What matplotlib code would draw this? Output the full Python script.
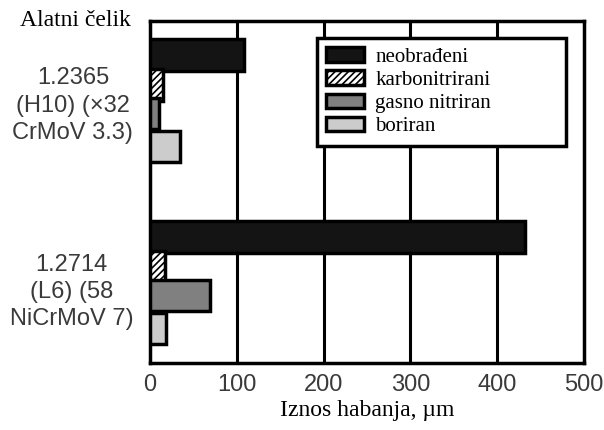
import matplotlib
matplotlib.use("Agg")
import matplotlib.pyplot as plt
import numpy as np

groups = ["1.2365\n(H10) (×32\nCrMoV 3.3)", "1.2714\n(L6) (58\nNiCrMoV 7)"]
series = ["neobrađeni", "karbonitrirani", "gasno nitriran", "boriran"]
neobradjeni = [108, 432]
karbonitrirani = [15, 17]
gasno_nitriran = [10, 69]
boriran = [34, 18]
xticks = [0, 100, 200, 300, 400, 500]

values = [neobradjeni, karbonitrirani, gasno_nitriran, boriran]
colors = ["#141414", "white", "#808080", "#cccccc"]
hatches = [None, "/////", None, None]

plt.rcParams['hatch.color'] = '#444444'
plt.rcParams['hatch.linewidth'] = 1.2

fig = plt.figure(figsize=(6.04, 4.30), dpi=100)
ax = fig.add_axes([150/604, 1-363/430, (584-150)/604, (363-21)/430])

group_start = [0.0, 5.78]
offsets = [0, 0.95, 1.85, 2.9]
bar_h = 1.0
handles = []
for si, (vals, c, h) in enumerate(zip(values, colors, hatches)):
    ys = [g + offsets[si] for g in group_start]
    b = ax.barh(ys, vals, height=bar_h, color=c, edgecolor="black",
                linewidth=2.5, hatch=h, zorder=3, label=series[si])
    handles.append(b)

ax.set_xlim(0, 500)
ax.set_ylim(9.78, -1.08)
ax.set_xticks(xticks)
ax.set_xticklabels([str(t) for t in xticks], fontfamily="Liberation Sans",
                   fontsize=17, color="#3a3a3a")
centers = [group_start[0] + 1.45, group_start[1] + 1.58]
ax.set_yticks(centers)
ax.set_yticklabels(groups, fontfamily="Liberation Sans", fontsize=17,
                   color="#3a3a3a", linespacing=1.32, multialignment="center")
ax.tick_params(axis="both", length=0)
ax.tick_params(axis="x", pad=8)
ax.tick_params(axis="y", pad=12)
for sp in ax.spines.values():
    sp.set_linewidth(2.5)
for x in xticks[1:-1]:
    ax.axvline(x, color="black", linewidth=2.2, zorder=1)

ax.set_xlabel("Iznos habanja, µm", fontfamily="Liberation Serif", fontsize=17,
              labelpad=3)
fig.text(20/604, 1-20/430, "Alatni čelik", fontfamily="Liberation Serif",
         fontsize=17, ha="left", va="center")

x0 = (317-150)/434
w = (566-317)/434
ytop = (363-38)/342
h = (147-38)/342
leg = ax.legend(handles=handles, loc="upper left",
                bbox_to_anchor=(x0, ytop - h, w, h), mode="expand",
                prop={"family": "Liberation Serif", "size": 15},
                frameon=True, fancybox=False, framealpha=1, edgecolor="black",
                labelspacing=0.17, handlelength=1.8, handleheight=0.7,
                borderpad=0.45, handletextpad=0.55, borderaxespad=0)
leg.get_frame().set_linewidth(2.5)
leg.set_zorder(5)

fig.savefig("out.png", dpi=100)
